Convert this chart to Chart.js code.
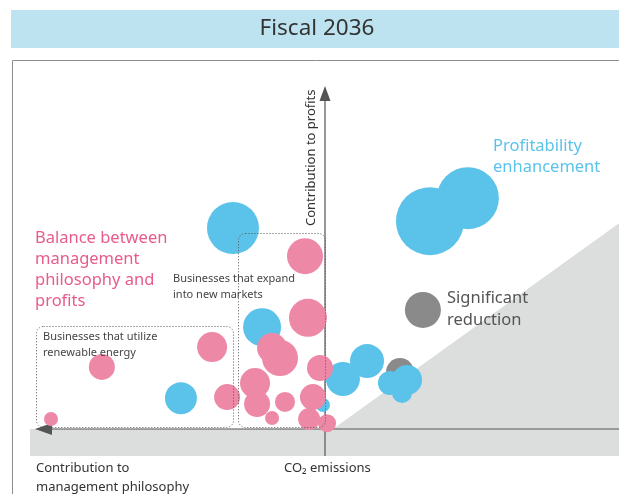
<!DOCTYPE html>
<html>
<head>
<meta charset="utf-8">
<script src="https://cdn.jsdelivr.net/npm/chart.js@4"></script>
<style>
  html, body { margin: 0; padding: 0; background: #fff; }
  #wrap { width: 619px; height: 494px; position: relative; }
</style>
</head>
<body>
<div id="wrap"><canvas id="c" width="619" height="494"></canvas></div>
<script>
// Horizontal: left = contribution to management philosophy, right = CO2 emissions reduction.
// Vertical: contribution to profits. Bubble radius = business scale.
const title = 'Fiscal 2036';

const profitX = [-31.3, 35.7, 48.6, -21.4, -49.0, 6.1, 14.3, 22.1, 27.9, 26.2, -0.7];
const profitY = [58.6, 60.6, 67.3, 29.7, 9.0, 14.6, 19.8, 13.4, 14.3, 10.5, 7.0];
const profitR = [26, 34, 31, 19, 16, 17, 17, 12, 15, 10, 7];

const reductionX = [33.3, 25.5];
const reductionY = [34.7, 16.6];
const reductionR = [18, 14];

const balanceX = [-6.8, -5.8, -18.0, -15.3, -1.7, -23.8, -23.1, -13.6, -18.0, -4.1, -5.4, 0.7, -38.4, -75.9, -33.3, -93.2];
const balanceY = [50.4, 32.4, 23.6, 20.7, 17.8, 13.4, 7.3, 7.9, 3.2, 9.3, 2.9, 1.7, 23.9, 18.1, 9.3, 2.9];
const balanceR = [18, 19, 15, 18, 13, 15, 13, 10, 7, 13, 11, 9, 15, 13, 13, 7];

const seriesNames = ['Significant reduction', 'Profitability enhancement', 'Balance between management philosophy and profits'];
const colors = { reduction: '#8a8a8a', profit: '#5bc3ea', balance: '#ee88a7' };

function toPoints(xs, ys, rs) {
  return xs.map((x, i) => ({ x: x, y: ys[i], r: rs[i] }));
}

const FONT = '"Noto Sans", "Open Sans", sans-serif';

function roundRect(ctx, x, y, w, h, r) {
  ctx.beginPath();
  ctx.moveTo(x + r, y);
  ctx.lineTo(x + w - r, y);
  ctx.arcTo(x + w, y, x + w, y + r, r);
  ctx.lineTo(x + w, y + h - r);
  ctx.arcTo(x + w, y + h, x + w - r, y + h, r);
  ctx.lineTo(x + r, y + h);
  ctx.arcTo(x, y + h, x, y + h - r, r);
  ctx.lineTo(x, y + r);
  ctx.arcTo(x, y, x + r, y, r);
  ctx.closePath();
}

const backdrop = {
  id: 'backdrop',
  beforeDatasetsDraw(chart) {
    const ctx = chart.ctx;
    const xs = chart.scales.x, ys = chart.scales.y;
    const ox = xs.getPixelForValue(0), oy = ys.getPixelForValue(0);
    const right = chart.width;
    ctx.save();
    // title band
    ctx.fillStyle = '#bde3f0';
    ctx.fillRect(11, 10, right - 11, 38);
    ctx.fillStyle = '#333';
    ctx.font = '22.5px ' + FONT;
    ctx.textAlign = 'center';
    ctx.textBaseline = 'middle';
    ctx.fillText(title, 317, 29);
    // panel frame
    ctx.strokeStyle = '#8c8c8c';
    ctx.lineWidth = 1;
    ctx.beginPath();
    ctx.moveTo(12.5, chart.height);
    ctx.lineTo(12.5, 60.5);
    ctx.lineTo(right, 60.5);
    ctx.stroke();
    // shaded band under the horizontal axis
    ctx.fillStyle = '#dcdddd';
    ctx.fillRect(30, oy, right - 30, 27);
    // shaded reduction wedge
    ctx.beginPath();
    ctx.moveTo(xs.getPixelForValue(2.7), oy);
    ctx.lineTo(right, ys.getPixelForValue(60));
    ctx.lineTo(right, oy);
    ctx.closePath();
    ctx.fill();
    // axes
    ctx.strokeStyle = '#555';
    ctx.fillStyle = '#555';
    ctx.lineWidth = 1.2;
    ctx.beginPath();
    ctx.moveTo(ox, oy + 27);
    ctx.lineTo(ox, ys.getPixelForValue(100) + 10);
    ctx.moveTo(right, oy);
    ctx.lineTo(45, oy);
    ctx.stroke();
    // arrow heads
    const top = ys.getPixelForValue(100);
    ctx.beginPath();
    ctx.moveTo(ox, top);
    ctx.lineTo(ox - 5.5, top + 15);
    ctx.lineTo(ox + 5.5, top + 15);
    ctx.closePath();
    ctx.fill();
    ctx.beginPath();
    ctx.moveTo(35, oy);
    ctx.lineTo(52, oy - 6);
    ctx.lineTo(52, oy + 6);
    ctx.closePath();
    ctx.fill();
    ctx.restore();
  },
  afterDatasetsDraw(chart) {
    const ctx = chart.ctx;
    ctx.save();
    // business group outlines
    ctx.strokeStyle = '#555';
    ctx.lineWidth = 1;
    ctx.setLineDash([1, 2]);
    roundRect(ctx, 36.5, 326.5, 197, 101, 7);
    ctx.stroke();
    roundRect(ctx, 238.5, 233.5, 87, 194, 7);
    ctx.stroke();
    ctx.setLineDash([]);

    ctx.textAlign = 'left';
    ctx.textBaseline = 'middle';
    ctx.fillStyle = '#444';
    ctx.font = '11px ' + FONT;
    ctx.fillText('Businesses that expand', 173, 279);
    ctx.fillText('into new markets', 173, 295);
    ctx.fillText('Businesses that utilize', 43, 337);
    ctx.fillText('renewable energy', 43, 353);

    ctx.font = '16.5px ' + FONT;
    ctx.fillStyle = '#e85c8b';
    ['Balance between', 'management', 'philosophy and', 'profits'].forEach((t, i) => ctx.fillText(t, 35, 238 + i * 21));
    ctx.fillStyle = '#5bc3ea';
    ctx.fillText('Profitability', 493, 146);
    ctx.fillText('enhancement', 493, 167);
    ctx.fillStyle = '#555';
    ctx.fillText('Significant', 447, 298);
    ctx.fillText('reduction', 447, 320);

    ctx.fillStyle = '#333';
    ctx.font = '13px ' + FONT;
    ctx.fillText('CO\u2082 emissions', 284, 468);
    ctx.fillText('Contribution to', 36, 468);
    ctx.fillText('management philosophy', 36, 487);
    ctx.translate(311, 226);
    ctx.rotate(-Math.PI / 2);
    ctx.fillText('Contribution to profits', 0, 0);
    ctx.restore();
  }
};

// Chart.js paints the first dataset on top, so the stacking is pink > blue > grey.
new Chart(document.getElementById('c'), {
  type: 'bubble',
  data: {
    datasets: [
      { label: seriesNames[2], data: toPoints(balanceX, balanceY, balanceR), backgroundColor: colors.balance },
      { label: seriesNames[1], data: toPoints(profitX, profitY, profitR), backgroundColor: colors.profit },
      { label: seriesNames[0], data: toPoints(reductionX, reductionY, reductionR), backgroundColor: colors.reduction }
    ]
  },
  options: {
    responsive: false,
    animation: false,
    events: [],
    layout: { autoPadding: false, padding: { left: 31, right: 0, top: 86, bottom: 65 } },
    elements: { point: { borderWidth: 0, hoverBorderWidth: 0 } },
    scales: {
      x: { type: 'linear', min: -100, max: 100, display: false },
      y: { type: 'linear', min: 0, max: 100, display: false }
    },
    plugins: { legend: { display: false }, tooltip: { enabled: false } },
    datasets: { bubble: { clip: false } }
  },
  plugins: [backdrop]
});
</script>
</body>
</html>
